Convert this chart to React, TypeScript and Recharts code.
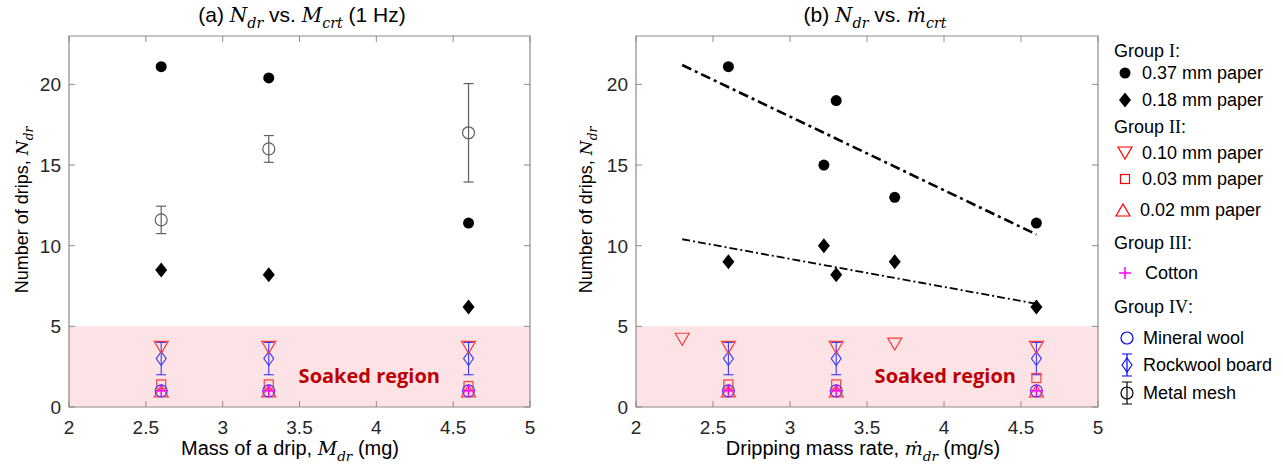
import React from 'react';
import { ComposedChart, Scatter, XAxis, YAxis, ReferenceArea, ErrorBar } from 'recharts';

const FONT = '"Liberation Sans", Arial, sans-serif';
const MATH = '"DejaVu Serif", "Liberation Serif", serif';
const AXIS_COLOR = '#8c8c8c';
const TEXT_COLOR = '#262626';
const RED = '#ff3b3b';
const BLUE = '#3a3aff';
const MAGENTA = '#ff00ff';
const MESH = '#606060';
const PINK = '#fde3e5';

// (a) Ndr vs. mass of a drip
const massA = [2.6, 3.3, 4.6];
const p037A = [21.1, 20.4, 11.4];
const p018A = [8.5, 8.2, 6.2];
const p010A = [3.7, 3.7, 3.7];
const p003A = [1.4, 1.4, 1.3];
const p002A = [1.0, 1.0, 1.0];
const cottonA = [1.0, 1.0, 1.0];
const mineralA = [1.0, 1.0, 1.0];
const rockA = [3.0, 3.0, 3.0];
const rockErrA = [1.0, 1.0, 1.0];
const meshA = [11.6, 16.0, 17.0];
const meshErrA = [0.85, 0.83, 3.05];

// (b) Ndr vs. dripping mass rate
const rate037 = [2.6, 3.22, 3.3, 3.68, 4.6];
const p037B = [21.1, 15.0, 19.0, 13.0, 11.4];
const rate018 = [2.6, 3.22, 3.3, 3.68, 4.6];
const p018B = [9.0, 10.0, 8.2, 9.0, 6.2];
const rate010 = [2.3, 2.6, 3.3, 3.68, 4.6];
const p010B = [4.2, 3.7, 3.7, 3.9, 3.7];
const rateB = [2.6, 3.3, 4.6];
const p003B = [1.4, 1.4, 1.8];
const p002B = [1.0, 1.0, 1.0];
const cottonB = [1.0, 1.0, 1.0];
const mineralB = [1.0, 1.0, 1.0];
const rockB = [3.0, 3.0, 3.0];
const rockErrB = [1.0, 1.0, 1.0];
const fitX = [2.3, 4.6];
const fit037 = [21.2, 10.7];
const fit018 = [10.4, 6.4];

const xTicks = [2, 2.5, 3, 3.5, 4, 4.5, 5];
const yTicks = [0, 5, 10, 15, 20];

const pts = (xs: number[], ys: number[]) => xs.map((x, i) => ({ x, y: ys[i] }));
const errPts = (xs: number[], ys: number[], es: number[]) =>
  xs.map((x, i) => ({ x, y: ys[i], err: [es[i], es[i]] }));

const CH_W = 560;
const CH_H = 475;
const PLOT_TOP = 36;
const PLOT_BOTTOM = 407;

// marker shapes
const Disc = ({ cx, cy }: any) => <circle cx={cx} cy={cy} r={5.5} fill="#000" />;
const Diamond = ({ cx, cy }: any) => (
  <path d={`M${cx},${cy - 7.5}L${cx + 6},${cy}L${cx},${cy + 7.5}L${cx - 6},${cy}Z`} fill="#000" />
);
const TriDown = ({ cx, cy, color = RED }: any) => (
  <path d={`M${cx - 7},${cy - 6}L${cx + 7},${cy - 6}L${cx},${cy + 6}Z`} fill="none" stroke={color} strokeWidth={1.2} />
);
const TriUp = ({ cx, cy, color = RED }: any) => (
  <path d={`M${cx - 7},${cy + 6}L${cx + 7},${cy + 6}L${cx},${cy - 6}Z`} fill="none" stroke={color} strokeWidth={1.2} />
);
const Square = ({ cx, cy, color = RED }: any) => (
  <rect x={cx - 4.5} y={cy - 4.5} width={9} height={9} fill="none" stroke={color} strokeWidth={1.2} />
);
const Plus = ({ cx, cy }: any) => (
  <path d={`M${cx - 6},${cy}H${cx + 6}M${cx},${cy - 6}V${cy + 6}`} stroke={MAGENTA} strokeWidth={1.5} />
);
const Ring = ({ cx, cy, color = BLUE }: any) => (
  <circle cx={cx} cy={cy} r={6} fill="none" stroke={color} strokeWidth={1.2} />
);
const OpenDiamond = ({ cx, cy, color = BLUE }: any) => (
  <path d={`M${cx},${cy - 7}L${cx + 5},${cy}L${cx},${cy + 7}L${cx - 5},${cy}Z`} fill="none" stroke={color} strokeWidth={1.1} />
);
const MeshRing = (p: any) => <Ring {...p} color={MESH} />;
const Nothing = () => <g />;

const XTick = (props: any) => {
  const { x, payload } = props;
  return (
    <g>
      <line x1={x} x2={x} y1={PLOT_BOTTOM} y2={PLOT_BOTTOM - 6} stroke={AXIS_COLOR} />
      <line x1={x} x2={x} y1={PLOT_TOP} y2={PLOT_TOP + 6} stroke={AXIS_COLOR} />
      <text x={x} y={PLOT_BOTTOM + 27} textAnchor="middle" fontSize={19} fontFamily={FONT} fill={TEXT_COLOR}>
        {payload.value}
      </text>
    </g>
  );
};

const makeYTick = (left: number, right: number) => (props: any) => {
  const { y, payload } = props;
  return (
    <g>
      <line x1={left} x2={left + 6} y1={y} y2={y} stroke={AXIS_COLOR} />
      <line x1={right} x2={right - 6} y1={y} y2={y} stroke={AXIS_COLOR} />
      <text x={left - 8} y={y + 7} textAnchor="end" fontSize={19} fontFamily={FONT} fill={TEXT_COLOR}>
        {payload.value}
      </text>
    </g>
  );
};

const soakedLabel = (offset: number) => ({
  value: 'Soaked region',
  position: 'insideRight' as const,
  offset,
  dy: 9,
  fill: '#c00000',
  fontSize: 20,
  fontWeight: 700,
  fontFamily: '"Open Sans", "Noto Sans", sans-serif',
});

const Panel = ({ left, right, soakOffset, children }: any) => (
  <ComposedChart
    width={CH_W}
    height={CH_H}
    margin={{ top: PLOT_TOP, right: CH_W - right, bottom: 0, left: left - 60 }}
  >
    <XAxis
      type="number"
      dataKey="x"
      domain={[2, 5]}
      ticks={xTicks}
      height={CH_H - PLOT_BOTTOM}
      tick={XTick}
      tickLine={false}
      axisLine={false}
      tickSize={0}
      allowDataOverflow
    />
    <YAxis
      type="number"
      dataKey="y"
      domain={[0, 23]}
      ticks={yTicks}
      width={60}
      tick={makeYTick(left, right)}
      tickLine={false}
      axisLine={false}
      tickSize={0}
      allowDataOverflow
    />
    <ReferenceArea x1={2} x2={5} y1={0} y2={5} fill={PINK} fillOpacity={1} stroke="none" ifOverflow="visible" label={soakedLabel(soakOffset)} />
    <ReferenceArea x1={2} x2={5} y1={0} y2={23} fill="none" stroke={AXIS_COLOR} strokeWidth={1.2} ifOverflow="visible" />
    {children}
  </ComposedChart>
);

// text with italic math symbols and subscripts: t = plain, m = math, s = subscript
type Seg = { t?: string; m?: string; s?: string };
const Rich = ({ segs, size }: { segs: Seg[]; size: number }) => {
  const shift = Math.round(size * 0.28);
  let down = false;
  return (
    <>
      {segs.map((g, i) => {
        if (g.s) {
          const el = (
            <tspan key={i} fontFamily={MATH} fontStyle="italic" fontSize={size * 0.68} dy={down ? 0 : shift}>
              {g.s}
            </tspan>
          );
          down = true;
          return el;
        }
        const dy = down ? -shift : undefined;
        down = false;
        if (g.m) {
          return (
            <tspan key={i} fontFamily={MATH} fontStyle="italic" fontSize={size * 0.95} dy={dy}>
              {g.m}
            </tspan>
          );
        }
        return <tspan key={i} dy={dy}>{g.t}</tspan>;
      })}
    </>
  );
};

const titleA: Seg[] = [{ t: '(a) ' }, { m: 'N' }, { s: 'dr' }, { t: ' vs. ' }, { m: 'M' }, { s: 'crt' }, { t: ' (1 Hz)' }];
const titleB: Seg[] = [{ t: '(b) ' }, { m: 'N' }, { s: 'dr' }, { t: ' vs. ' }, { m: '\u1e41' }, { s: 'crt' }];
const xLabelA: Seg[] = [{ t: 'Mass of a drip, ' }, { m: 'M' }, { s: 'dr' }, { t: ' (mg)' }];
const xLabelB: Seg[] = [{ t: 'Dripping mass rate, ' }, { m: '\u1e41' }, { s: 'dr' }, { t: ' (mg/s)' }];
const yLabel: Seg[] = [{ t: 'Number of drips, ' }, { m: 'N' }, { s: 'dr' }];

const Roman = ({ children }: any) => <tspan fontFamily='"Liberation Serif", serif'>{children}</tspan>;

const legendGroups = [
  { label: 'I', y: 51 },
  { label: 'II', y: 127 },
  { label: 'III', y: 243 },
  { label: 'IV', y: 307 },
];
const legendItems = [
  { name: '0.37 mm paper', y: 73, mx: 1125, tx: 1142, Shape: Disc },
  { name: '0.18 mm paper', y: 100, mx: 1125, tx: 1142, Shape: Diamond },
  { name: '0.10 mm paper', y: 153, mx: 1125, tx: 1142, Shape: (p: any) => <TriDown {...p} color="#ff0000" /> },
  { name: '0.03 mm paper', y: 179, mx: 1125, tx: 1142, Shape: (p: any) => <Square {...p} color="#ff0000" /> },
  { name: '0.02 mm paper', y: 210, mx: 1123, tx: 1140, Shape: (p: any) => <TriUp {...p} color="#ff0000" /> },
  { name: 'Cotton', y: 273, mx: 1125, tx: 1145, Shape: Plus },
  { name: 'Mineral wool', y: 338, mx: 1127, tx: 1143, Shape: (p: any) => <Ring {...p} color="#0000ff" /> },
  {
    name: 'Rockwool board', y: 365, mx: 1127, tx: 1143,
    Shape: ({ cx, cy }: any) => (
      <g>
        <path d={`M${cx - 5},${cy - 11}H${cx + 5}M${cx - 5},${cy + 11}H${cx + 5}M${cx},${cy - 11}V${cy + 11}`} stroke="#0000ff" strokeWidth={1.2} />
        <OpenDiamond cx={cx} cy={cy} color="#0000ff" />
      </g>
    ),
  },
  {
    name: 'Metal mesh', y: 393, mx: 1127, tx: 1143,
    Shape: ({ cx, cy }: any) => (
      <g>
        <path d={`M${cx - 5},${cy - 11}H${cx + 5}M${cx - 5},${cy + 11}H${cx + 5}M${cx},${cy - 11}V${cy + 11}`} stroke="#000" strokeWidth={1.2} />
        <Ring cx={cx} cy={cy} color="#000" />
      </g>
    ),
  },
];

const Overlay = () => (
  <svg width={1283} height={475} style={{ position: 'absolute', left: 0, top: 0, pointerEvents: 'none' }}>
    <g fontFamily={FONT} fill="#000">
      <text x={302} y={22} textAnchor="middle" fontSize={21}>
        <Rich segs={titleA} size={21} />
      </text>
      <text x={875} y={22} textAnchor="middle" fontSize={21}>
        <Rich segs={titleB} size={21} />
      </text>
      <text x={290} y={455} textAnchor="middle" fontSize={20}>
        <Rich segs={xLabelA} size={20} />
      </text>
      <text x={863} y={455} textAnchor="middle" fontSize={20}>
        <Rich segs={xLabelB} size={20} />
      </text>
      <text transform="translate(28,210) rotate(-90)" textAnchor="middle" fontSize={18}>
        <Rich segs={yLabel} size={18} />
      </text>
      <text transform="translate(592,210) rotate(-90)" textAnchor="middle" fontSize={18}>
        <Rich segs={yLabel} size={18} />
      </text>
    </g>
    <g fontFamily={FONT} fill="#000" fontSize={18}>
      {legendGroups.map((g) => (
        <text key={g.label} x={1114} y={g.y + 6}>
          Group <Roman>{g.label}</Roman>:
        </text>
      ))}
      {legendItems.map(({ name, y, mx, tx, Shape }) => (
        <g key={name}>
          <Shape cx={mx} cy={y} />
          <text x={tx} y={y + 6}>{name}</text>
        </g>
      ))}
    </g>
  </svg>
);

export default function App() {
  return (
    <div style={{ position: 'fixed', left: 0, top: 0, width: 1283, height: 475, background: '#fff' }}>
      <div style={{ position: 'absolute', left: 0, top: 0 }}>
        <Panel left={69} right={530} soakOffset={90}>
          <Scatter data={errPts(massA, meshA, meshErrA)} shape={MeshRing} isAnimationActive={false}>
            <ErrorBar dataKey="err" direction="y" width={5} stroke={MESH} strokeWidth={1.2} isAnimationActive={false} />
          </Scatter>
          <Scatter data={pts(massA, p037A)} shape={Disc} isAnimationActive={false} />
          <Scatter data={pts(massA, p018A)} shape={Diamond} isAnimationActive={false} />
          <Scatter data={errPts(massA, rockA, rockErrA)} shape={OpenDiamond} isAnimationActive={false}>
            <ErrorBar dataKey="err" direction="y" width={5} stroke={BLUE} strokeWidth={1.1} isAnimationActive={false} />
          </Scatter>
          <Scatter data={pts(massA, p010A)} shape={TriDown} isAnimationActive={false} />
          <Scatter data={pts(massA, p003A)} shape={Square} isAnimationActive={false} />
          <Scatter data={pts(massA, p002A)} shape={TriUp} isAnimationActive={false} />
          <Scatter data={pts(massA, mineralA)} shape={Ring} isAnimationActive={false} />
          <Scatter data={pts(massA, cottonA)} shape={Plus} isAnimationActive={false} />
        </Panel>
      </div>
      <div style={{ position: 'absolute', left: 560, top: 0 }}>
        <Panel left={76} right={538} soakOffset={82}>
          <Scatter
            data={pts(fitX, fit037)}
            shape={Nothing}
            line={{ stroke: '#000', strokeWidth: 2.6, strokeDasharray: '10 4 3 4' }}
            isAnimationActive={false}
          />
          <Scatter
            data={pts(fitX, fit018)}
            shape={Nothing}
            line={{ stroke: '#000', strokeWidth: 1.8, strokeDasharray: '8 3 2 3' }}
            isAnimationActive={false}
          />
          <Scatter data={pts(rate037, p037B)} shape={Disc} isAnimationActive={false} />
          <Scatter data={pts(rate018, p018B)} shape={Diamond} isAnimationActive={false} />
          <Scatter data={errPts(rateB, rockB, rockErrB)} shape={OpenDiamond} isAnimationActive={false}>
            <ErrorBar dataKey="err" direction="y" width={5} stroke={BLUE} strokeWidth={1.1} isAnimationActive={false} />
          </Scatter>
          <Scatter data={pts(rate010, p010B)} shape={TriDown} isAnimationActive={false} />
          <Scatter data={pts(rateB, p003B)} shape={Square} isAnimationActive={false} />
          <Scatter data={pts(rateB, p002B)} shape={TriUp} isAnimationActive={false} />
          <Scatter data={pts(rateB, mineralB)} shape={Ring} isAnimationActive={false} />
          <Scatter data={pts(rateB, cottonB)} shape={Plus} isAnimationActive={false} />
        </Panel>
      </div>
      <Overlay />
    </div>
  );
}
